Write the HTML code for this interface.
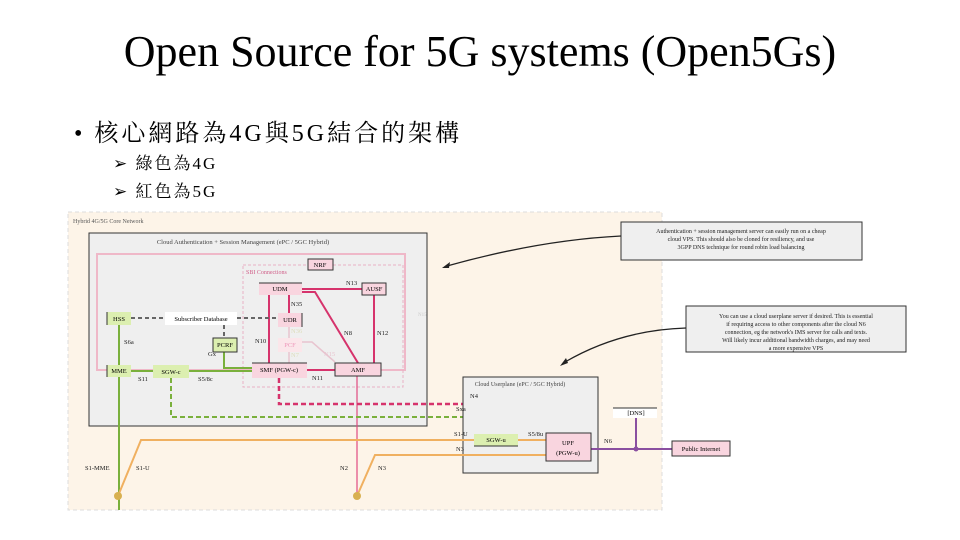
<!DOCTYPE html>
<html><head><meta charset="utf-8"><style>
body{margin:0;width:960px;height:540px;background:#fff;overflow:hidden;position:relative;font-family:"Liberation Serif","Noto Serif CJK SC",serif}
.t{position:absolute;white-space:nowrap;color:#000}
</style></head><body>
<div class="t" style="left:0;width:960px;text-align:center;top:26px;font-size:44px">Open Source for 5G systems (Open5Gs)</div>
<div class="t" style="left:74px;top:113px;font-size:24px;letter-spacing:3px;font-family:'Liberation Serif','Noto Serif CJK SC',serif">• 核心網路為4G與5G結合的架構</div>
<div class="t" style="left:113px;top:149px;font-size:17px;letter-spacing:2px">➢ 綠色為4G</div>
<div class="t" style="left:113px;top:177px;font-size:17px;letter-spacing:2px">➢ 紅色為5G</div>
<svg style="position:absolute;left:0;top:0" width="960" height="540" font-family="Liberation Serif, serif">
<rect x="68" y="212" width="594" height="298" fill="#fdf4e8" stroke="#ddd" stroke-dasharray="4,3"/>
<text x="73" y="223" font-size="6" fill="#555">Hybrid 4G/5G Core Network</text>
<rect x="89" y="233" width="338" height="193" fill="#efefef" stroke="#333" stroke-width="1"/>
<text x="243" y="244" font-size="6.5" fill="#444" text-anchor="middle">Cloud Authentication + Session Management (ePC / 5GC Hybrid)</text>
<rect x="97" y="254" width="308" height="116" fill="none" stroke="#efb8c8" stroke-width="2"/>
<rect x="243" y="265" width="160" height="122" fill="none" stroke="#eab0c4" stroke-dasharray="3,2"/>
<text x="246" y="274" font-size="6" fill="#d0608a">SBI Connections</text>
<text x="418" y="316" font-size="5" fill="#ccc">N15</text>
<g stroke="#d6336c" stroke-width="2" fill="none">
<line x1="302" y1="289" x2="362" y2="289"/>
<line x1="269" y1="295" x2="269" y2="363"/>
<line x1="289" y1="295" x2="289" y2="313"/>
<polyline points="302,292 315,292 358,363"/>
<line x1="374" y1="295" x2="374" y2="363"/>
<line x1="307" y1="370" x2="335" y2="370"/>
</g>
<line x1="357" y1="376" x2="357" y2="496" stroke="#e04a80" stroke-width="1.2"/>
<g stroke="#e8c4cf" stroke-width="1.5" fill="none"><line x1="289" y1="327" x2="289" y2="338"/><line x1="289" y1="352" x2="289" y2="363"/><polyline points="302,342 312,342 335,362"/></g>
<g stroke="#7ab03c" stroke-width="2" fill="none">
<line x1="119" y1="325" x2="119" y2="510"/>
<line x1="131" y1="371" x2="252" y2="371"/>
<polyline points="224,352 224,368 252,368"/>
</g>
<g stroke="#666" stroke-width="2" stroke-dasharray="4,3" fill="none">
<line x1="131" y1="318" x2="165" y2="318"/><line x1="237" y1="318" x2="278" y2="318"/><line x1="224" y1="325" x2="224" y2="338"/>
</g>
<polyline points="279,378 279,404 566,404 566,433" stroke="#d6336c" stroke-width="2.5" stroke-dasharray="5,3" fill="none"/>
<polyline points="171,378 171,417 496,417 496,434" stroke="#7ab03c" stroke-width="2" stroke-dasharray="5,3" fill="none"/>
<rect x="463" y="377" width="135" height="96" fill="#efefef" stroke="#333"/>
<text x="520" y="386" font-size="6" fill="#444" text-anchor="middle">Cloud Userplane (ePC / 5GC Hybrid)</text>
<g stroke="#f0b060" stroke-width="2" fill="none">
<polyline points="118,496 141,440 546,440"/>
<polyline points="357,496 375,455 546,455"/>
</g>
<circle cx="118" cy="496" r="4" fill="#d8b050"/><circle cx="357" cy="496" r="4" fill="#d8b050"/>
<g stroke="#8a4fa0" stroke-width="2"><line x1="591" y1="449" x2="672" y2="449"/><line x1="636" y1="418" x2="636" y2="449"/></g>
<circle cx="636" cy="449" r="2.5" fill="#8a4fa0"/>
<g font-size="6.5" text-anchor="middle" stroke-width="1">
<rect x="308" y="259" width="25" height="11" fill="#f9d5df" stroke="#333"/><text x="320" y="267">NRF</text>
<rect x="259" y="283" width="43" height="12" fill="#f9d5df"/><line x1="259" y1="283" x2="302" y2="283" stroke="#333"/><text x="280" y="291">UDM</text>
<rect x="362" y="283" width="24" height="12" fill="#f9d5df" stroke="#333"/><text x="374" y="291">AUSF</text>
<rect x="278" y="313" width="24" height="14" fill="#f9d5df"/><line x1="302" y1="313" x2="302" y2="327" stroke="#333"/><text x="290" y="322">UDR</text>
<rect x="278" y="338" width="24" height="14" fill="#fbe6ea"/><text x="290" y="347" fill="#e9b">PCF</text>
<rect x="252" y="363" width="55" height="15" fill="#f9d5df"/><line x1="252" y1="363" x2="307" y2="363" stroke="#333"/><text x="279" y="372">SMF (PGW-c)</text>
<rect x="335" y="363" width="46" height="13" fill="#f9d5df" stroke="#333"/><text x="358" y="372">AMF</text>
<rect x="107" y="312" width="24" height="13" fill="#dcefb0"/><line x1="107" y1="312" x2="107" y2="325" stroke="#333"/><text x="119" y="321">HSS</text>
<rect x="165" y="312" width="72" height="13" fill="#fff"/><text x="201" y="321">Subscriber Database</text>
<rect x="213" y="338" width="24" height="14" fill="#dcefb0" stroke="#333"/><text x="225" y="347">PCRF</text>
<rect x="107" y="365" width="24" height="12" fill="#dcefb0"/><line x1="107" y1="365" x2="107" y2="377" stroke="#333"/><text x="119" y="373">MME</text>
<rect x="153" y="365" width="36" height="13" fill="#dcefb0"/><text x="171" y="374">SGW-c</text>
<rect x="474" y="434" width="44" height="12" fill="#dcefb0"/><line x1="474" y1="446" x2="518" y2="446" stroke="#333"/><text x="496" y="442">SGW-u</text>
<rect x="546" y="433" width="45" height="28" fill="#f9d5df" stroke="#333"/><text x="568" y="445">UPF</text><text x="568" y="455">(PGW-u)</text>
<rect x="613" y="408" width="44" height="10" fill="#fff"/><line x1="613" y1="408" x2="657" y2="408" stroke="#333"/><text x="636" y="415">[DNS]</text>
<rect x="672" y="441" width="58" height="15" fill="#f9d5df" stroke="#333"/><text x="701" y="451">Public Internet</text>
</g>
<g font-size="6.5" fill="#222">
<text x="346" y="285">N13</text><text x="291" y="306">N35</text><text x="291" y="333" fill="#ddb">N36</text><text x="255" y="343">N10</text><text x="344" y="335">N8</text><text x="377" y="335">N12</text>
<text x="324" y="356" fill="#e8c4cf">N15</text><text x="291" y="357" fill="#ddb">N7</text><text x="312" y="380">N11</text>
<text x="124" y="344">S6a</text><text x="208" y="356">Gx</text><text x="138" y="381">S11</text><text x="198" y="381">S5/8c</text>
<text x="470" y="398">N4</text><text x="456" y="411">Sxa</text><text x="454" y="436">S1-U</text><text x="456" y="451">N3</text><text x="528" y="436">S5/8u</text><text x="604" y="443">N6</text>
<text x="85" y="470">S1-MME</text><text x="136" y="470">S1-U</text><text x="340" y="470">N2</text><text x="378" y="470">N3</text>
</g>
<rect x="621" y="222" width="241" height="38" fill="#efefef" stroke="#333"/>
<g font-size="6" text-anchor="middle" fill="#222"><text x="741" y="233">Authentication + session management server can easily run on a cheap</text><text x="741" y="241">cloud VPS. This should also be cloned for resiliency, and use</text><text x="741" y="249">3GPP DNS technique for round robin load balancing</text></g>
<rect x="686" y="306" width="220" height="46" fill="#efefef" stroke="#333"/>
<g font-size="6" text-anchor="middle" fill="#222"><text x="796" y="318">You can use a cloud userplane server if desired. This is essential</text><text x="796" y="326">if requiring access to other components after the cloud N6</text><text x="796" y="334">connection, eg the network's IMS server for calls and texts.</text><text x="796" y="342">Will likely incur additional bandwidth charges, and may need</text><text x="796" y="350">a more expensive VPS</text></g>
<path d="M621,236 Q540,240 447,266" stroke="#222" stroke-width="1.3" fill="none"/><path d="M442,268 l8,-6 l-1,6z" fill="#222"/>
<path d="M686,328 Q620,330 565,362" stroke="#222" stroke-width="1.3" fill="none"/><path d="M560,366 l6,-8 l2,5z" fill="#222"/>
</svg>
</body></html>
